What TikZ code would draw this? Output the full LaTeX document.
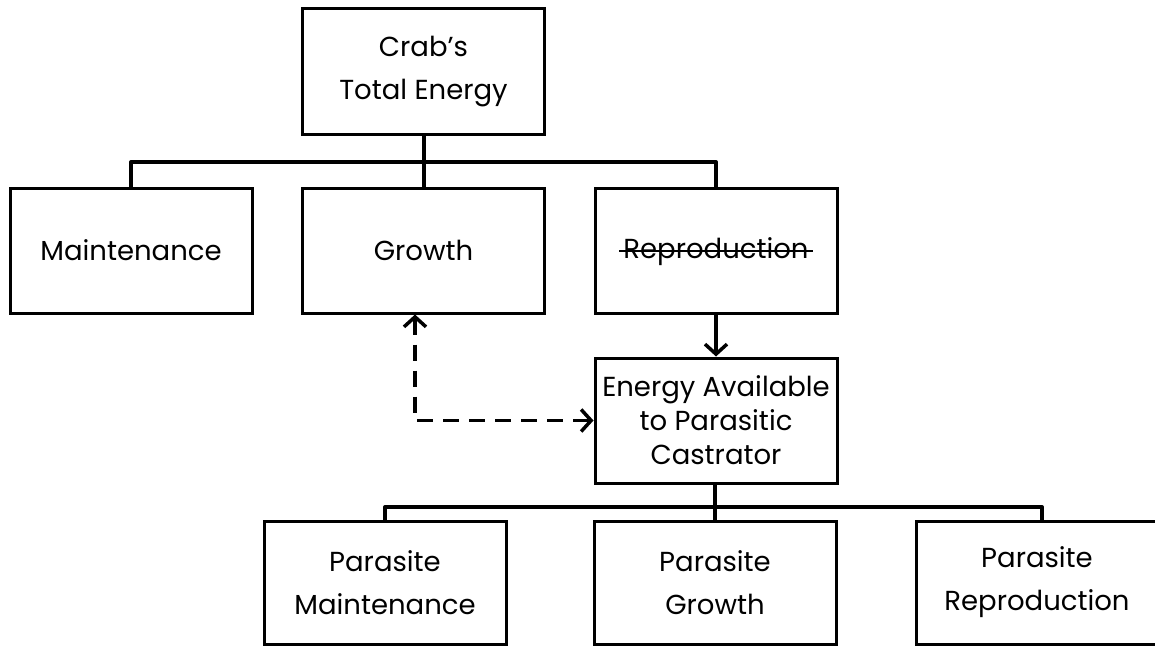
\documentclass[tikz,border=0pt]{standalone}
\usepackage{fontspec}
\setmainfont{Poppins}
\usetikzlibrary{arrows.meta,calc}
\begin{document}
\begin{tikzpicture}[x=1pt,y=-1pt,
  box/.style={draw=black,line width=3pt,minimum width=242pt,minimum height=125pt,
    inner sep=0pt,align=center,font=\fontsize{27.5}{43}\selectfont},
  bus/.style={line width=4pt,line join=round},
  solidarrow/.style={line width=3.5pt,-{Straight Barb[length=10pt,width=22pt,line width=3.5pt]}},
  dasharrow/.style={line width=3.5pt,dash pattern=on 16pt off 10pt,
    {Straight Barb[length=10pt,width=22pt,line width=3.5pt]}-{Straight Barb[length=10pt,width=22pt,line width=3.5pt]}},
  strike/.style={line width=2.5pt}]
\clip (0,0) rectangle (1155,647);
\fill[white] (0,0) rectangle (1155,647);
% crab boxes
\node[box,minimum height=126pt] (top) at (423.5,72) {Crab's\\Total Energy};
\node[box] (maint) at (131,250.5) {Maintenance};
\node[box] (growth) at (423.5,250.5) {Growth};
\node[box] (repro) at (716,250.5) {};
\node[font=\fontsize{27.5}{43}\selectfont,inner sep=0pt] (reprotext) at (716,252) {Reproduction};
\draw[strike] ([xshift=-4pt,yshift=1pt]reprotext.west) -- ([xshift=4pt,yshift=1pt]reprotext.east);
\node[box,font=\fontsize{27.5}{34}\selectfont] (energy) at (716,420.5) {Energy Available\\to Parasitic\\Castrator};
% parasite boxes
\node[box,minimum height=123pt] (pmaint) at (385,582.5) {Parasite\\Maintenance};
\node[box,minimum height=123pt] (pgrowth) at (715,582.5) {Parasite\\Growth};
\node[box,minimum height=123pt] (prepro) at (1037,582.5) {Parasite\\Reproduction};
% buses
\coordinate (busA) at (423.5,162);
\draw[bus] (maint.north) |- (busA) -| (repro.north);
\draw[bus] (top.south) -- (growth.north);
\coordinate (busB) at (715,507);
\draw[bus] (pmaint.north) |- (busB) -| ([xshift=5pt]prepro.north);
\draw[bus] (pgrowth.north) -- (pgrowth.north |- energy.south);
% arrows
\draw[solidarrow] (repro.south) -- (energy.north);
\draw[dasharrow] ([xshift=-8.5pt]growth.south) |- (energy.west);
\end{tikzpicture}
\end{document}
